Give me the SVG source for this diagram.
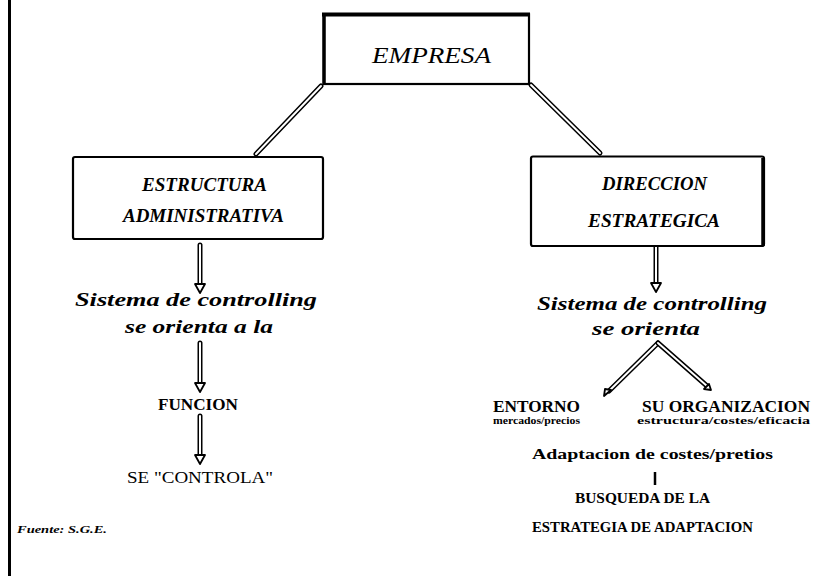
<svg xmlns="http://www.w3.org/2000/svg" width="815" height="576" viewBox="0 0 815 576">
<style>
text{font-family:"Liberation Serif","DejaVu Serif",serif;fill:#000}
.bi{font-weight:bold;font-style:italic}
.b{font-weight:bold}
.box{fill:#fff;stroke:#000;stroke-width:2.2}
.dbl{stroke:#000;stroke-width:5;stroke-linecap:round;fill:none}
.dbli{stroke:#fff;stroke-width:2;stroke-linecap:round;fill:none}
.head{fill:#fff;stroke:#000;stroke-width:1.8;stroke-linejoin:round}
</style>
<rect width="815" height="576" fill="#fff"/>
<line x1="9.5" y1="0" x2="9.5" y2="576" stroke="#000" stroke-width="3"/>
<g id="connectors">
<line class="dbl" x1="321" y1="86" x2="256" y2="154"/><line class="dbli" x1="321" y1="86" x2="256" y2="154"/>
<line class="dbl" x1="531" y1="85" x2="600" y2="153"/><line class="dbli" x1="531" y1="85" x2="600" y2="153"/>
<line class="dbl" x1="200" y1="245" x2="200" y2="284"/><line class="dbli" x1="200" y1="245" x2="200" y2="286"/>
<polygon class="head" points="195,284 205,284 200,293"/>
<line class="dbl" x1="200" y1="343" x2="200" y2="383"/><line class="dbli" x1="200" y1="343" x2="200" y2="385"/>
<polygon class="head" points="195,383 205,383 200,392"/>
<line class="dbl" x1="200" y1="416" x2="200" y2="455"/><line class="dbli" x1="200" y1="416" x2="200" y2="457"/>
<polygon class="head" points="195,455 205,455 200,464"/>
<line class="dbl" x1="656" y1="247" x2="656" y2="283"/><line class="dbli" x1="656" y1="247" x2="656" y2="285"/>
<polygon class="head" points="651,283 661,283 656,292"/>
<line class="dbl" x1="658" y1="343" x2="609" y2="391"/><line class="dbli" x1="658" y1="343" x2="609" y2="391"/>
<polygon class="head" points="604,396 605,389 611,390"/>
<line class="dbl" x1="658" y1="343" x2="707" y2="386"/><line class="dbli" x1="658" y1="343" x2="707" y2="386"/>
<polygon class="head" points="711,390 704,389 709,384"/>
<line x1="655" y1="472" x2="655" y2="485" stroke="#000" stroke-width="2.5"/>
</g>
<g id="empresa">
<rect class="box" x="324" y="14.5" width="205" height="69.5"/>
<line x1="322" y1="14.5" x2="530" y2="14.5" stroke="#000" stroke-width="4"/>
<line x1="324" y1="13" x2="324" y2="85" stroke="#000" stroke-width="3.5"/>
<text x="372" y="63" font-size="24" font-style="italic" textLength="119" lengthAdjust="spacingAndGlyphs">EMPRESA</text>
</g>
<g id="estructura">
<rect class="box" x="73" y="157" width="250" height="82" rx="2"/>
<text class="bi" x="142" y="191" font-size="18" textLength="125" lengthAdjust="spacingAndGlyphs">ESTRUCTURA</text>
<text class="bi" x="123" y="222" font-size="18" textLength="161" lengthAdjust="spacingAndGlyphs">ADMINISTRATIVA</text>
</g>
<g id="direccion">
<rect class="box" x="531" y="156.5" width="233" height="89.5" rx="2"/>
<line x1="763" y1="158" x2="763" y2="246" stroke="#000" stroke-width="3.5"/>
<text class="bi" x="602" y="190" font-size="18" textLength="105" lengthAdjust="spacingAndGlyphs">DIRECCION</text>
<text class="bi" x="588" y="227" font-size="18" textLength="132" lengthAdjust="spacingAndGlyphs">ESTRATEGICA</text>
</g>
<g id="left-flow">
<text class="bi" x="75" y="306" font-size="18" textLength="242" lengthAdjust="spacingAndGlyphs">Sistema  de controlling</text>
<text class="bi" x="125" y="333" font-size="18" textLength="148" lengthAdjust="spacingAndGlyphs">se orienta a la</text>
<text class="b" x="158" y="410" font-size="17" textLength="80" lengthAdjust="spacingAndGlyphs">FUNCION</text>
<text x="127" y="483" font-size="17" textLength="146" lengthAdjust="spacingAndGlyphs">SE "CONTROLA"</text>
</g>
<g id="right-flow">
<text class="bi" x="537" y="310" font-size="18" textLength="230" lengthAdjust="spacingAndGlyphs">Sistema de controlling</text>
<text class="bi" x="592" y="335" font-size="18" textLength="108" lengthAdjust="spacingAndGlyphs">se orienta</text>
<text class="b" x="493" y="412" font-size="17" textLength="87" lengthAdjust="spacingAndGlyphs">ENTORNO</text>
<text class="b" x="493" y="424" font-size="10" textLength="87" lengthAdjust="spacingAndGlyphs">mercados/precios</text>
<text class="b" x="642" y="412" font-size="17" textLength="168" lengthAdjust="spacingAndGlyphs">SU ORGANIZACION</text>
<text class="b" x="637" y="424" font-size="10" textLength="173" lengthAdjust="spacingAndGlyphs">estructura/costes/eficacia</text>
<text class="b" x="532" y="459" font-size="14" textLength="241" lengthAdjust="spacingAndGlyphs">Adaptacion de costes/pretios</text>
<text class="b" x="575" y="503" font-size="14" textLength="135" lengthAdjust="spacingAndGlyphs">BUSQUEDA DE LA</text>
<text class="b" x="532" y="532" font-size="14" textLength="221" lengthAdjust="spacingAndGlyphs">ESTRATEGIA DE ADAPTACION</text>
</g>
<g id="source">
<text class="bi" x="17" y="533" font-size="11" textLength="90" lengthAdjust="spacingAndGlyphs">Fuente: S.G.E.</text>
</g>
</svg>
